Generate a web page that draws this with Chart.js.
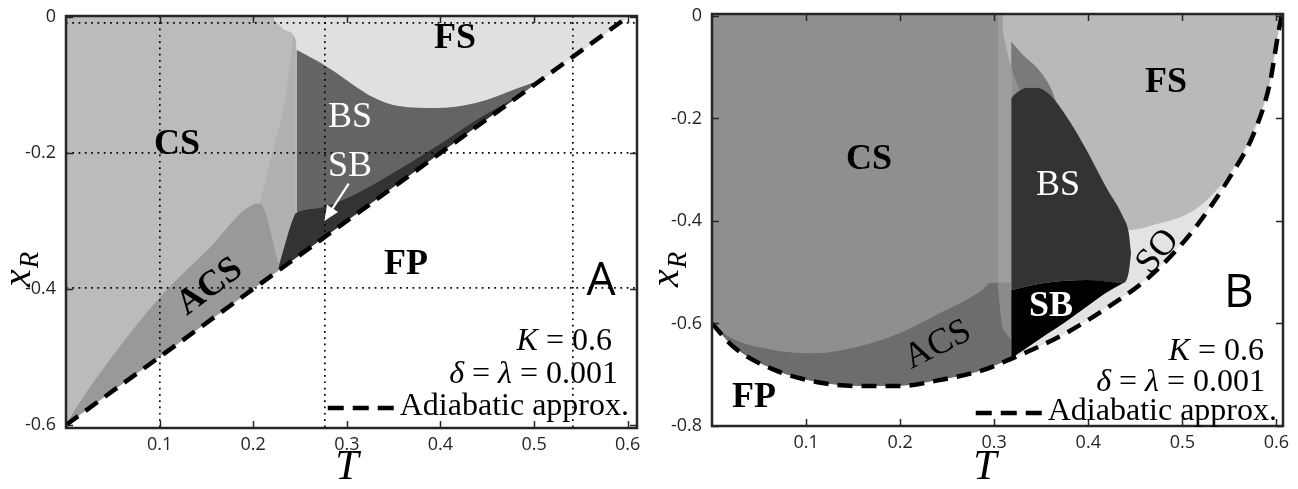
<!DOCTYPE html>
<html>
<head>
<meta charset="utf-8">
<title>Phase diagrams</title>
<script src="https://cdn.jsdelivr.net/npm/chart.js@4.4.1/dist/chart.umd.min.js"></script>
<style>
  html, body { margin: 0; padding: 0; background: #fff; }
  #wrap { position: relative; width: 1298px; height: 489px; overflow: hidden; }
  canvas { position: absolute; top: 0; }
</style>
</head>
<body>
<div id="wrap">
  <canvas id="panelA" width="650" height="489" style="left:0px"></canvas>
  <canvas id="panelB" width="648" height="489" style="left:650px"></canvas>
</div>
<script>
// axis ticks
const tTicks = [0.1, 0.2, 0.3, 0.4, 0.5, 0.6];
const xrTicksA = [-0.6, -0.4, -0.2, 0];
const xrTicksB = [-0.8, -0.6, -0.4, -0.2, 0];
const gridTA = [0.1, 0.276, 0.541];
const gridXA = [-0.009, -0.2, -0.398];

// panel A: region boundaries as (T, x_R)
const adiTA = [0, 0.61];
const adiXA = [-0.6, 0.01];
const fsTA = [0.222, 0.235, 0.2455, 0.2465, 0.265, 0.284, 0.305, 0.328, 0.355, 0.395, 0.439, 0.484, 0.511, 0.55, 0.61];
const fsXA = [-0.004, -0.02, -0.034, -0.0485, -0.062, -0.078, -0.098, -0.118, -0.131, -0.134, -0.126, -0.104, -0.089, -0.05, 0.01];
const sbTA = [0.2276, 0.2447, 0.2465, 0.276, 0.307, 0.35, 0.395, 0.439, 0.484, 0.5, 0.52];
const sbXA = [-0.365, -0.29, -0.288, -0.279, -0.262, -0.229, -0.191, -0.151, -0.115, -0.1, -0.08];
const acsTA = [0, 0.0075, 0.041, 0.098, 0.151, 0.207, 0.2276];
const acsXA = [-0.6, -0.582, -0.515, -0.416, -0.343, -0.274, -0.365];
const fuzzTA = [0.207, 0.221, 0.234, 0.241, 0.2455];
const fuzzXA = [-0.274, -0.196, -0.122, -0.049, 0];

// panel B: region boundaries as (T, x_R)
const adiTB = [0, 0.023, 0.067, 0.111, 0.155, 0.199, 0.243, 0.288, 0.318, 0.332, 0.376, 0.421, 0.465, 0.509, 0.553, 0.576, 0.593, 0.602, 0.606];
const adiXB = [-0.6, -0.646, -0.691, -0.714, -0.722, -0.722, -0.71, -0.691, -0.669, -0.658, -0.619, -0.568, -0.509, -0.424, -0.307, -0.229, -0.131, -0.033, 0.005];
const csTB = [0, 0.02, 0.066, 0.11, 0.154, 0.199, 0.242, 0.287, 0.296, 0.318];
const csXB = [-0.6, -0.628, -0.652, -0.658, -0.646, -0.619, -0.58, -0.535, -0.521, -0.52];
const bandTB = [0.304, 0.308, 0.313, 0.318];
const bandXB = [-0.53, -0.6, -0.62, -0.63];
const fsTB = [0.309, 0.318, 0.36, 0.4, 0.442, 0.475, 0.508, 0.53, 0.553, 0.57, 0.585, 0.597, 0.603, 0.606, 0.607];
const fsXB = [-0.03, -0.1, -0.25, -0.4, -0.418, -0.405, -0.384, -0.352, -0.3, -0.245, -0.18, -0.11, -0.045, 0, 0.004];
const hazeTB = [0.318, 0.33, 0.345, 0.36, 0.37];
const hazeXB = [-0.05, -0.075, -0.1, -0.14, -0.19];
const bsTopTB = [0.318, 0.325, 0.335, 0.345, 0.357, 0.38, 0.398, 0.419, 0.437, 0.443, 0.4455];
const bsTopXB = [-0.16, -0.148, -0.14, -0.14, -0.15, -0.205, -0.261, -0.334, -0.392, -0.423, -0.462];
const bsLowTB = [0.318, 0.353, 0.398, 0.437, 0.443, 0.4455];
const bsLowXB = [-0.535, -0.521, -0.515, -0.521, -0.5, -0.462];
const sbLowTB = [0.318, 0.331, 0.355, 0.375, 0.4, 0.419, 0.437];
const sbLowXB = [-0.668, -0.652, -0.622, -0.598, -0.565, -0.54, -0.521];

const pts = (T, X) => T.map((t, i) => ({x: t, y: X[i]}));

function region(data, fill, color, layer) {
  return {data: data, fill: fill, backgroundColor: color, borderColor: 'transparent', borderWidth: 0,
          pointRadius: 0, cubicInterpolationMode: 'monotone', order: 100 - layer};
}
function adiabatic(data, layer) {
  return {data: data, fill: false, borderColor: '#000', borderWidth: 4.5, borderDash: [15, 9],
          borderCapStyle: 'butt', pointRadius: 0, cubicInterpolationMode: 'monotone', order: 100 - layer};
}

const dsA = [
  region(pts(adiTA, adiXA), 'end', '#bbbbbb', 0),                              // CS
  region(pts(fuzzTA, fuzzXA), 'start', '#b1b1b1', 1),                          // ragged CS edge
  region(pts(fsTA, fsXA), 'end', '#e0e0e0', 2),                                // FS
  region(pts(fsTA, fsXA).filter(p => p.x >= 0.2465), 'start', '#646464', 3),   // BS
  region(pts(acsTA, acsXA), 'start', '#999999', 4),                            // ACS
  region(pts(sbTA, sbXA), 'start', '#333333', 5),                              // SB
  region(pts(adiTA, adiXA), 'start', '#ffffff', 6),                            // FP
  adiabatic(pts(adiTA, adiXA), 7)
];

const dsB = [
  region(pts(adiTB, adiXB), 'end', '#e3e3e3', 0),                              // 0 SO
  region(pts(adiTB, adiXB).filter(p => p.x <= 0.318), 'end', '#6d6d6d', 1),    // 1 ACS
  region(pts(csTB, csXB), 'end', '#8f8f8f', 2),                                // 2 CS
  region(pts(bandTB, bandXB), 'end', 'rgba(175,175,175,0.45)', 3),             // 3 ragged CS edge
  region(pts(fsTB, fsXB), 'end', '#b9b9b9', 4),                                // 4 FS
  region(pts(hazeTB, hazeXB), 6, 'rgba(60,60,60,0.5)', 5),                     // 5 speckled BS top
  region(pts(bsTopTB, bsTopXB), 7, '#333333', 6),                              // 6 BS
  region(pts(bsLowTB, bsLowXB), false, 'transparent', 7),                      // 7 BS/SB edge
  region(pts(bsLowTB, bsLowXB).filter(p => p.x <= 0.437), 9, '#000000', 8),    // 8 SB
  region(pts(sbLowTB, sbLowXB), false, 'transparent', 9),                      // 9 SB lower edge
  region(pts(adiTB, adiXB), 'start', '#ffffff', 10),                           // 10 FP
  adiabatic(pts(adiTB, adiXB), 11)
];

const SERIF = '"Liberation Serif", "Times New Roman", serif';
const bold36 = 'bold 36px ' + SERIF;
const reg36 = '36px ' + SERIF;
const bigSans = '500 46px "Open Sans", sans-serif';

const labelsA = [
  {text: 'FS', t: 0.4156, x: -0.0324, font: bold36, color: '#000'},
  {text: 'CS', t: 0.1186, x: -0.1882, font: bold36, color: '#000'},
  {text: 'BS', t: 0.3034, x: -0.1485, font: reg36, color: '#fff'},
  {text: 'SB', t: 0.3034, x: -0.2206, font: reg36, color: '#fff'},
  {text: 'FP', t: 0.3632, x: -0.3647, font: bold36, color: '#000'},
  {text: 'ACS', t: 0.1538, x: -0.397, font: bold36, color: '#000', rot: -37},
  {text: 'A', t: 0.5716, x: -0.3897, font: bigSans, color: '#000'}
];
const labelsB = [
  {text: 'FS', t: 0.4826, x: -0.1307, font: bold36, color: '#000'},
  {text: 'CS', t: 0.1669, x: -0.281, font: bold36, color: '#000'},
  {text: 'BS', t: 0.3678, x: -0.3317, font: reg36, color: '#fff'},
  {text: 'SB', t: 0.3604, x: -0.5678, font: bold36, color: '#fff'},
  {text: 'SO', t: 0.4741, x: -0.4605, font: reg36, color: '#000', rot: -50},
  {text: 'ACS', t: 0.2402, x: -0.642, font: reg36, color: '#000', rot: -27},
  {text: 'FP', t: 0.0446, x: -0.7454, font: bold36, color: '#000'},
  {text: 'B', t: 0.56, x: -0.5424, font: bigSans, color: '#000'}
];

function drawRun(ctx, pieces, right, y) {
  let w = 0;
  pieces.forEach(p => { ctx.font = p[1]; w += ctx.measureText(p[0]).width; });
  let cx = right - w;
  pieces.forEach(p => { ctx.font = p[1]; ctx.fillText(p[0], cx, y); cx += ctx.measureText(p[0]).width; });
  return right - w;
}

// frame, inward ticks, region names, parameter block, axis titles
function decor(o) {
  return {
    id: 'decor' + o.key,
    afterDraw(chart) {
      const ctx = chart.ctx, a = chart.chartArea, sx = chart.scales.x, sy = chart.scales.y;
      ctx.save();
      ctx.strokeStyle = '#262626';
      ctx.lineWidth = 2.5;
      ctx.strokeRect(a.left, a.top, a.right - a.left, a.bottom - a.top);
      ctx.lineWidth = 1.5;
      ctx.beginPath();
      tTicks.forEach(v => {
        const px = Math.round(sx.getPixelForValue(v)) + 0.5;
        ctx.moveTo(px, a.bottom); ctx.lineTo(px, a.bottom - 7);
        ctx.moveTo(px, a.top); ctx.lineTo(px, a.top + 7);
      });
      o.yTicks.forEach(v => {
        const py = Math.round(sy.getPixelForValue(v)) + 0.5;
        ctx.moveTo(a.left, py); ctx.lineTo(a.left + 7, py);
        ctx.moveTo(a.right, py); ctx.lineTo(a.right - 7, py);
      });
      ctx.stroke();

      ctx.textAlign = 'center';
      ctx.textBaseline = 'middle';
      o.labels.forEach(l => {
        ctx.save();
        ctx.translate(sx.getPixelForValue(l.t), sy.getPixelForValue(l.x));
        ctx.rotate((l.rot || 0) * Math.PI / 180);
        ctx.font = l.font;
        ctx.fillStyle = l.color;
        ctx.fillText(l.text, 0, 0);
        ctx.restore();
      });

      if (o.arrow) {
        const x0 = sx.getPixelForValue(o.arrow[0]), y0 = sy.getPixelForValue(o.arrow[1]);
        const x1 = sx.getPixelForValue(o.arrow[2]), y1 = sy.getPixelForValue(o.arrow[3]);
        const ang = Math.atan2(y1 - y0, x1 - x0);
        ctx.strokeStyle = '#fff'; ctx.fillStyle = '#fff'; ctx.lineWidth = 2.2;
        ctx.beginPath(); ctx.moveTo(x0, y0);
        ctx.lineTo(x1 - 10 * Math.cos(ang), y1 - 10 * Math.sin(ang)); ctx.stroke();
        ctx.beginPath(); ctx.moveTo(x1, y1);
        ctx.lineTo(x1 - 15 * Math.cos(ang) + 6.5 * Math.sin(ang), y1 - 15 * Math.sin(ang) - 6.5 * Math.cos(ang));
        ctx.lineTo(x1 - 15 * Math.cos(ang) - 6.5 * Math.sin(ang), y1 - 15 * Math.sin(ang) + 6.5 * Math.cos(ang));
        ctx.closePath(); ctx.fill();
      }

      // parameters and legend
      const it = 'italic 32px ' + SERIF, rm = '32px ' + SERIF;
      ctx.fillStyle = '#000';
      ctx.textAlign = 'left';
      ctx.textBaseline = 'middle';
      drawRun(ctx, [['K', it], [' = 0.6', rm]], a.right - o.kRight, a.bottom - o.kUp);
      drawRun(ctx, [['\u03b4', it], [' = ', rm], ['\u03bb', it], [' = 0.001', rm]], a.right - o.dRight, a.bottom - o.dUp);
      const lx = drawRun(ctx, [['Adiabatic approx.', rm]], a.right - o.lRight, a.bottom - o.lUp);
      ctx.strokeStyle = '#000'; ctx.lineWidth = 4.5; ctx.setLineDash([16, 9]);
      ctx.beginPath();
      ctx.moveTo(lx - 72, a.bottom - o.lUp + 1); ctx.lineTo(lx - 6, a.bottom - o.lUp + 1);
      ctx.stroke();
      ctx.setLineDash([]);

      // axis titles
      ctx.textAlign = 'center';
      ctx.textBaseline = 'middle';
      ctx.font = 'italic 42px ' + SERIF;
      ctx.fillText('T', o.tTitle[0], o.tTitle[1]);
      ctx.save();
      ctx.translate(o.yTitle[0], o.yTitle[1]);
      ctx.rotate(-Math.PI / 2);
      ctx.textAlign = 'left';
      ctx.textBaseline = 'alphabetic';
      ctx.font = 'italic 40px ' + SERIF;
      const wx = ctx.measureText('x').width;
      ctx.font = 'italic 27px ' + SERIF;
      const wr = ctx.measureText('R').width;
      ctx.font = 'italic 40px ' + SERIF;
      ctx.fillText('x', -(wx + wr) / 2, 9);
      ctx.font = 'italic 27px ' + SERIF;
      ctx.fillText('R', -(wx + wr) / 2 + wx + 1, 17);
      ctx.restore();
      ctx.restore();
    }
  };
}

const tickFont = {family: '"Open Sans", sans-serif', size: 18};

function makePanel(id, o) {
  const scales = {
    x: {
      type: 'linear', min: o.tMin, max: o.tMax,
      grid: {display: false, drawTicks: false}, border: {display: false},
      afterBuildTicks: s => { s.ticks = tTicks.map(v => ({value: v})); },
      afterFit: s => { s.height = o.xh; s.paddingLeft = 0; s.paddingRight = 0; },
      ticks: {font: tickFont, color: '#262626', padding: 6, maxRotation: 0, autoSkip: false,
              callback: v => v.toFixed(1)}
    },
    y: {
      type: 'linear', min: o.xrMin, max: o.xrMax,
      grid: {display: false, drawTicks: false}, border: {display: false},
      afterBuildTicks: s => { s.ticks = o.yTicks.map(v => ({value: v})); },
      afterFit: s => { s.width = o.yw; s.paddingTop = 0; s.paddingBottom = 0; },
      ticks: {font: tickFont, color: '#262626', padding: o.yPad, autoSkip: false,
              callback: v => (v === 0 ? '0' : v.toFixed(1))}
    }
  };
  if (o.gridT) {
    scales.gx = {
      type: 'linear', position: 'top', min: o.tMin, max: o.tMax,
      ticks: {display: false},
      grid: {drawTicks: false, color: '#000', lineWidth: 1.7, z: 1},
      border: {display: false, dash: [1.7, 4.6]},
      afterBuildTicks: s => { s.ticks = o.gridT.map(v => ({value: v})); },
      afterFit: s => { s.height = 0; s.paddingLeft = 0; s.paddingRight = 0; }
    };
    scales.gy = {
      type: 'linear', position: 'right', min: o.xrMin, max: o.xrMax,
      ticks: {display: false},
      grid: {drawTicks: false, color: '#000', lineWidth: 1.7, z: 1},
      border: {display: false, dash: [1.7, 4.6]},
      afterBuildTicks: s => { s.ticks = o.gridX.map(v => ({value: v})); },
      afterFit: s => { s.width = 0; s.paddingTop = 0; s.paddingBottom = 0; }
    };
  }
  return new Chart(document.getElementById(id), {
    type: 'line',
    data: {datasets: o.datasets},
    options: {
      responsive: false,
      animation: false,
      layout: {padding: o.pad},
      plugins: {legend: {display: false}, tooltip: {enabled: false}},
      scales: scales
    },
    plugins: [decor(o)]
  });
}

makePanel('panelA', {
  key: 'A', datasets: dsA, labels: labelsA,
  tMin: 0, tMax: 0.61, xrMin: -0.6045, xrMax: 0.0015,
  yTicks: xrTicksA, gridT: gridTA, gridX: gridXA,
  pad: {top: 16, right: 13, left: 0, bottom: 0}, xh: 61, yw: 66, yPad: 10,
  arrow: [0.302, -0.245, 0.276, -0.3],
  kRight: 25, kUp: 86, dRight: 19, dUp: 53, lRight: 8, lUp: 21,
  tTitle: [347, 468], yTitle: [21, 270]
});

makePanel('panelB', {
  key: 'B', datasets: dsB, labels: labelsB,
  tMin: 0, tMax: 0.607, xrMin: -0.8, xrMax: 0.0039,
  yTicks: xrTicksB,
  pad: {top: 14, right: 15, left: 0, bottom: 0}, xh: 63, yw: 62, yPad: 10,
  kRight: 19, kUp: 74, dRight: 18, dUp: 43, lRight: 6, lUp: 14,
  tTitle: [335, 468], yTitle: [19, 270]
});
</script>
</body>
</html>
